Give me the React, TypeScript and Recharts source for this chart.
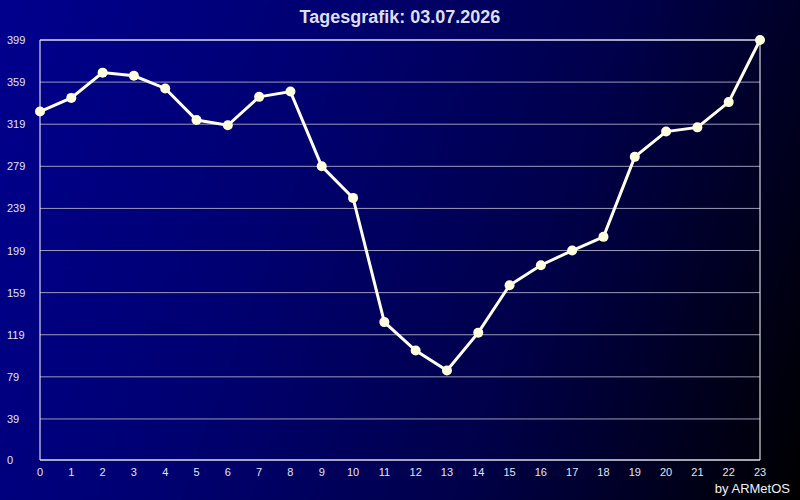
import React from "react";
import { LineChart, Line, XAxis, YAxis, CartesianGrid, ReferenceLine } from "recharts";

const hours = [0, 1, 2, 3, 4, 5, 6, 7, 8, 9, 10, 11, 12, 13, 14, 15, 16, 17, 18, 19, 20, 21, 22, 23];
const values = [331, 344, 368, 365, 353, 323, 318, 345, 350, 279, 249, 131, 104, 85, 121, 166, 185, 199, 212, 288, 312, 316, 340, 399];
const yTicks = [0, 39, 79, 119, 159, 199, 239, 279, 319, 359, 399];

const data = hours.map((h, i) => ({ h, v: values[i] }));

const FONT = "'Liberation Sans', Arial, sans-serif";

const YTick = (props: any) => {
  const { y, payload } = props;
  return (
    <text x={7} y={y} dy={4} textAnchor="start" fill="#e4e4f4" fontSize={11} fontFamily={FONT}>
      {payload.value}
    </text>
  );
};

export default function App() {
  return (
    <div
      style={{
        position: "fixed",
        left: 0,
        top: 0,
        width: 800,
        height: 500,
        background: "linear-gradient(110deg, #00008e 0%, #000070 35%, #00004a 65%, #000000 100%)",
        fontFamily: FONT,
      }}
    >
      <div
        style={{
          position: "absolute",
          left: 0,
          top: 7,
          width: 800,
          textAlign: "center",
          color: "#dcdff0",
          fontSize: 18,
          fontWeight: "bold",
        }}
      >
        Tagesgrafik: 03.07.2026
      </div>
      <div
        style={{
          position: "absolute",
          right: 10,
          top: 481,
          color: "#f0f0f8",
          fontSize: 13,
          lineHeight: "15px",
        }}
      >
        by ARMetOS
      </div>
      <LineChart
        width={800}
        height={500}
        data={data}
        margin={{ top: 40, right: 40, bottom: 0, left: 0 }}
        style={{ position: "absolute", left: 0, top: 0 }}
      >
        <CartesianGrid horizontal vertical={false} stroke="#9a9ab8" strokeWidth={1} />
        <XAxis
          dataKey="h"
          type="number"
          domain={[0, 23]}
          ticks={hours}
          interval={0}
          height={40}
          axisLine={{ stroke: "#ffffff", strokeWidth: 1 }}
          tickLine={false}
          tick={{ fill: "#e4e4f4", fontSize: 11, fontFamily: FONT }}
          tickMargin={2}
        />
        <YAxis
          type="number"
          domain={[0, 399]}
          ticks={yTicks}
          interval={0}
          width={40}
          axisLine={{ stroke: "#ffffff", strokeWidth: 1 }}
          tickLine={false}
          tick={<YTick />}
        />
        <ReferenceLine y={399} stroke="#ffffff" strokeWidth={1} ifOverflow="extendDomain" />
        <ReferenceLine x={23} stroke="#ffffff" strokeWidth={1} />
        <Line
          dataKey="v"
          type="linear"
          stroke="#fffff0"
          strokeWidth={3}
          dot={{ r: 5, fill: "#ffffe0", stroke: "none" }}
          activeDot={false}
          isAnimationActive={false}
        />
      </LineChart>
    </div>
  );
}
